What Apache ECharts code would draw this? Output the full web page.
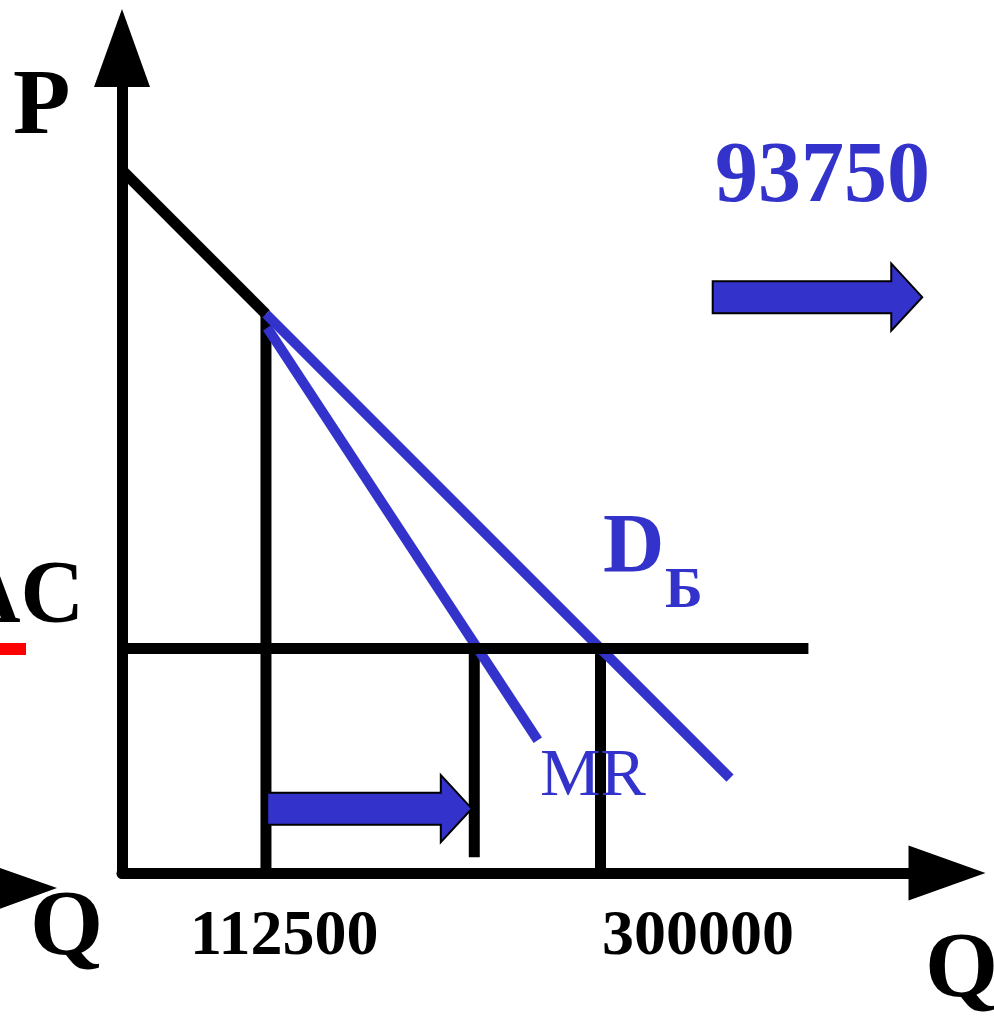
<!DOCTYPE html>
<html>
<head>
<meta charset="utf-8">
<script src="https://cdn.jsdelivr.net/npm/echarts@6/dist/echarts.min.js"></script>
<style>
  html, body { margin: 0; padding: 0; background: #fff; }
  #chart { width: 994px; height: 1023px; }
</style>
</head>
<body>
<div id="chart"></div>
<script>
// diagram units: Q on x, P on y, both 0..100
var demandLeft = [[0, 85.2], [17.45, 67.75]];
var demandRight = [[17.45, 67.75], [73.7, 11.5]];
var mrLine = [[17.6, 66.1], [50.4, 16.1]];
var acLine = [[0, 27.2], [83.2, 27.2]];
var dropLines = [
  [[17.45, 0], [17.45, 67.75]],
  [[42.7, 1.9], [42.7, 27.2]],
  [[58, 0], [58, 27.2]]
];
// block arrows: [Q from, Q to, P]
var shiftArrows = [[17.6, 42.4, 7.8], [71.6, 97.0, 69.8]];
var qLabels = ['112500', '300000'];
var bigNumber = '93750';

var BLUE = '#3333cc';
var SERIF = '"Liberation Serif", "Times New Roman", serif';

var chart = echarts.init(document.getElementById('chart'));

function lineSeries(data, color, width, z) {
  return {
    type: 'line',
    data: data,
    symbol: 'none',
    silent: true,
    z: z,
    lineStyle: { color: color, width: width, cap: 'butt' }
  };
}

function txt(text, x, y, size, color, weight, align) {
  return {
    type: 'text',
    x: x,
    y: y,
    z: 50,
    style: {
      text: text,
      fill: color,
      font: (weight || 'bold') + ' ' + size + 'px ' + SERIF,
      align: align || 'left',
      textAlign: align || 'left',
      verticalAlign: 'middle',
      textVerticalAlign: 'middle'
    }
  };
}

var series = [];
dropLines.forEach(function (d) { series.push(lineSeries(d, '#000', 11, 2)); });
series.push(lineSeries(demandLeft, '#000', 11, 3));
series.push(lineSeries(demandRight, BLUE, 10, 4));
series.push(lineSeries(mrLine, BLUE, 10, 4));
series.push(lineSeries(acLine, '#000', 11, 5));
series.push({
  type: 'custom',
  data: shiftArrows,
  clip: false,
  z: 10,
  encode: { x: [0, 1], y: 2 },
  renderItem: function (params, api) {
    var a = api.coord([api.value(0), api.value(2)]);
    var b = api.coord([api.value(1), api.value(2)]);
    var y = a[1], x0 = a[0], x1 = b[0];
    var body = 16, head = 33.5, hb = x1 - 31;
    return {
      type: 'polygon',
      shape: {
        points: [
          [x0, y - body], [hb, y - body], [hb, y - head], [x1, y],
          [hb, y + head], [hb, y + body], [x0, y + body]
        ]
      },
      style: { fill: BLUE, stroke: '#000', lineWidth: 2 }
    };
  }
});

var option = {
  animation: false,
  backgroundColor: '#fff',
  grid: { left: 122, right: 47, top: 48, bottom: 150 },
  xAxis: {
    type: 'value', min: 0, max: 100,
    axisLine: {
      show: true, onZero: false,
      symbol: ['none', 'triangle'], symbolSize: [55, 77],
      lineStyle: { color: '#000', width: 11 }
    },
    axisTick: { show: false }, axisLabel: { show: false }, splitLine: { show: false }
  },
  yAxis: {
    type: 'value', min: 0, max: 100,
    axisLine: {
      show: true, onZero: false,
      symbol: ['none', 'triangle'], symbolSize: [56, 78],
      lineStyle: { color: '#000', width: 11 }
    },
    axisTick: { show: false }, axisLabel: { show: false }, splitLine: { show: false }
  },
  series: series,
  graphic: [
    { type: 'rect', shape: { x: 0, y: 643, width: 26, height: 12 }, style: { fill: '#ff0000' }, z: 20 },
    { type: 'polygon', shape: { points: [[-6, 866], [57, 888], [-6, 911]] }, style: { fill: '#000' }, z: 20 },
    txt('P', 13, 109, 94, '#000'),
    txt(bigNumber, 715, 179, 86, BLUE),
    txt('D', 603, 550, 85, BLUE),
    txt('Б', 665, 592, 57, BLUE),
    txt('AC', 84, 598, 88, '#000', 'bold', 'right'),
    txt('MR', 540, 777, 68, BLUE, 'normal'),
    txt('Q', 30, 930, 94, '#000'),
    txt('Q', 925, 972, 94, '#000'),
    txt(qLabels[0], 190, 937, 64, '#000'),
    txt(qLabels[1], 602, 937, 64, '#000')
  ]
};

chart.setOption(option);
</script>
</body>
</html>
